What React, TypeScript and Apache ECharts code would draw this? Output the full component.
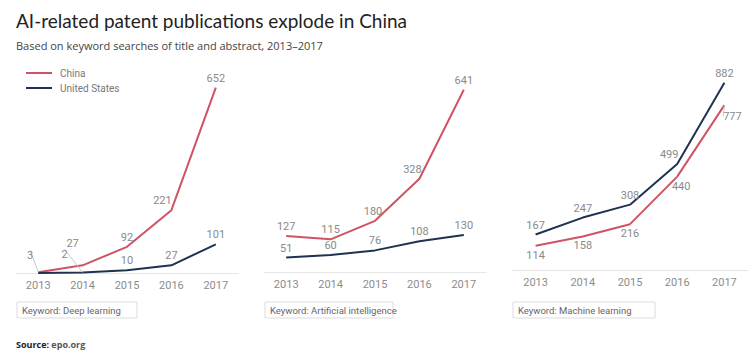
import React, { useEffect, useRef } from "react";
import * as echarts from "echarts";

const YEARS = ["2013", "2014", "2015", "2016", "2017"];
const DL_CHINA = [3, 27, 92, 221, 652];
const DL_US = [0, 2, 10, 27, 101];
const AI_CHINA = [127, 115, 180, 328, 641];
const AI_US = [51, 60, 76, 108, 130];
const ML_CHINA = [114, 158, 216, 440, 777];
const ML_US = [167, 247, 308, 499, 882];
const KEYWORDS = ["Keyword: Deep learning", "Keyword: Artificial intelligence", "Keyword: Machine learning"];

const RED = "#cf5364";
const NAVY = "#1d3350";
const FONT = "Roboto, 'Open Sans', sans-serif";

type Off = { [i: number]: [number, number] };

function mkData(vals: number[], leader: number[], hidden: number[]) {
  return vals.map((v, i) => {
    const item: any = { value: v };
    if (hidden.includes(i)) item.label = { show: false };
    if (leader.includes(i)) item.labelLine = { show: true, lineStyle: { color: "#c8c8c8", width: 1 } };
    return item;
  });
}

function mkSeries(name: string, color: string, vals: number[], idx: number, pos: string, offs: Off, leader: number[] = [], hidden: number[] = []) {
  return {
    type: "line",
    name,
    xAxisIndex: idx,
    yAxisIndex: idx,
    data: mkData(vals, leader, hidden),
    showSymbol: true,
    symbol: "circle",
    symbolSize: 0,
    lineStyle: { color, width: 2 },
    itemStyle: { color },
    label: { show: true, position: pos, distance: 4, color: "#8a8a8a", fontSize: 11, fontFamily: FONT },
    labelLine: { show: false },
    labelLayout: (p: any) => {
      const o = offs[p.dataIndex];
      return o ? { dx: o[0], dy: o[1] } : {};
    },
  };
}

export default function App() {
  const ref = useRef<HTMLDivElement>(null);
  useEffect(() => {
    document.body.style.margin = "0";
    const chart = echarts.init(ref.current!, null, { renderer: "svg" });
    const grids = [
      { left: 16, top: 74, width: 222, height: 199 },
      { left: 264, top: 73, width: 222, height: 199 },
      { left: 512, top: 79, width: 236, height: 191 },
    ];
    const yMax = [700, 700, 900];
    const boxes = [
      { x: 17, w: 120 },
      { x: 265, w: 128 },
      { x: 513, w: 142 },
    ];
    const option: any = {
      animation: false,
      backgroundColor: "#ffffff",
      title: [
        {
          text: "AI-related patent publications explode in China",
          left: 11,
          top: 6,
          textStyle: { fontSize: 19, fontWeight: "normal", color: "#222", fontFamily: "Lato, 'Open Sans', sans-serif" },
        },
        {
          text: "Based on keyword searches of title and abstract, 2013\u20132017",
          left: 11,
          top: 35,
          textStyle: { fontSize: 11, fontWeight: "normal", color: "#444", fontFamily: "'Open Sans', sans-serif" },
        },
        {
          text: "{b|Source:} epo.org",
          left: 11,
          top: 335,
          textStyle: {
            fontSize: 9,
            color: "#555",
            fontFamily: "'Open Sans', sans-serif",
            rich: { b: { fontWeight: "bold", fontSize: 9, color: "#222", fontFamily: "'Open Sans', sans-serif" } },
          },
        },
      ],
      legend: {
        orient: "vertical",
        left: 21,
        top: 63,
        itemGap: 5,
        itemWidth: 26,
        itemHeight: 2,
        icon: "rect",
        data: ["China", "United States"],
        textStyle: { color: "#777", fontSize: 10, fontFamily: FONT, padding: [0, 0, 0, 3] },
      },
      grid: grids,
      xAxis: grids.map((_, i) => ({
        type: "category",
        gridIndex: i,
        data: YEARS,
        boundaryGap: true,
        axisLine: { lineStyle: { color: "#e6e6e6", width: 1 } },
        axisTick: { show: false },
        axisLabel: { color: "#8c8c8c", fontSize: 11, margin: 7, fontFamily: FONT },
      })),
      yAxis: grids.map((_, i) => ({
        type: "value",
        gridIndex: i,
        min: 0,
        max: yMax[i],
        show: false,
        splitLine: { show: false },
      })),
      series: [
        mkSeries("China", RED, DL_CHINA, 0, "top", { 0: [-8, -7], 1: [-10, -12], 3: [-9, 0] }, [0]),
        mkSeries("United States", NAVY, DL_US, 0, "top", { 1: [-18, -8] }, [1], [0]),
        mkSeries("China", RED, AI_CHINA, 1, "top", { 2: [-2, 0], 3: [-7, 0] }),
        mkSeries("United States", NAVY, AI_US, 1, "top", {}),
        mkSeries("China", RED, ML_CHINA, 2, "bottom", { 3: [4, 0], 4: [8, 2] }, [4]),
        mkSeries("United States", NAVY, ML_US, 2, "top", { 3: [-8, 0] }),
      ],
      graphic: boxes.flatMap((b, i) => [
        {
          type: "rect",
          shape: { x: b.x, y: 302, width: b.w, height: 16 },
          style: { fill: "#fff", stroke: "#dcdcdc", lineWidth: 1 },
        },
        {
          type: "text",
          x: b.x + 5,
          y: 310,
          style: { text: KEYWORDS[i], fontSize: 9.5, fill: "#666", fontFamily: FONT, verticalAlign: "middle" },
        },
      ]),
    };
    chart.setOption(option);
    return () => chart.dispose();
  }, []);
  return <div ref={ref} style={{ width: 752, height: 353, position: "fixed", left: 0, top: 0 }} />;
}
